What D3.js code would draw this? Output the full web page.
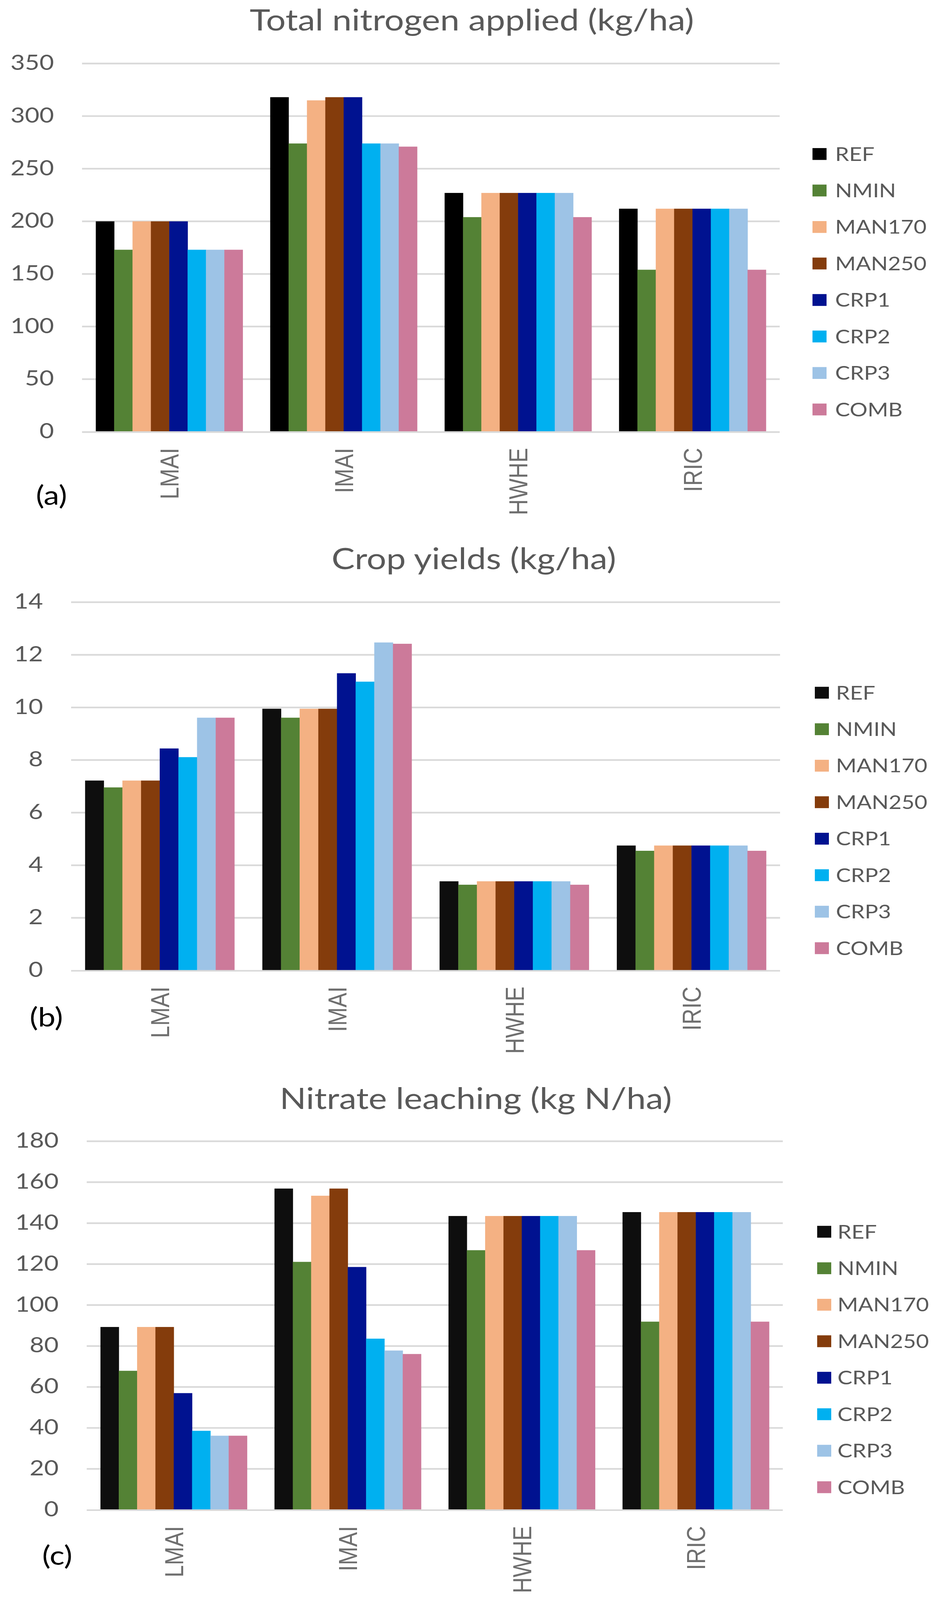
<!DOCTYPE html>
<html>
<head>
<meta charset="utf-8">
<script src="https://cdn.jsdelivr.net/npm/d3@7/dist/d3.min.js"></script>
<style>
  html, body { margin: 0; padding: 0; background: #ffffff; overflow: hidden; }
  svg { display: block; }
</style>
</head>
<body>
<script>
// ---------------- DATA ----------------
const categories = ["LMAI", "IMAI", "HWHE", "IRIC"];
const seriesNames = ["REF", "NMIN", "MAN170", "MAN250", "CRP1", "CRP2", "CRP3", "COMB"];
const seriesColors = ["#000000", "#548235", "#F4B183", "#843C0C", "#001290", "#00B0F0", "#9DC3E6", "#CC7A9A"];

// values per series, in category order LMAI, IMAI, HWHE, IRIC
const nitrogenApplied = [
  [200, 318, 227, 212],   // REF
  [173, 274, 204, 154],   // NMIN
  [200, 315, 227, 212],   // MAN170
  [200, 318, 227, 212],   // MAN250
  [200, 318, 227, 212],   // CRP1
  [173, 274, 227, 212],   // CRP2
  [173, 274, 227, 212],   // CRP3
  [173, 271, 204, 154]    // COMB
];
const cropYields = [
  [7.22, 9.95, 3.39, 4.75],
  [6.96, 9.61, 3.26, 4.55],
  [7.22, 9.95, 3.39, 4.75],
  [7.22, 9.95, 3.39, 4.75],
  [8.44, 11.30, 3.39, 4.75],
  [8.11, 10.98, 3.39, 4.75],
  [9.61, 12.47, 3.39, 4.75],
  [9.61, 12.42, 3.26, 4.55]
];
const nitrateLeaching = [
  [89.3, 156.9, 143.5, 145.4],
  [67.9, 121.1, 126.8, 91.9],
  [89.3, 153.4, 143.5, 145.4],
  [89.3, 156.9, 143.5, 145.4],
  [57.0, 118.6, 143.5, 145.4],
  [38.6, 83.6, 143.5, 145.4],
  [36.2, 77.8, 143.5, 145.4],
  [36.2, 76.1, 126.8, 91.9]
];
const nitrogenTicks = [0, 50, 100, 150, 200, 250, 300, 350];
const yieldTicks = [0, 2, 4, 6, 8, 10, 12, 14];
const leachingTicks = [0, 20, 40, 60, 80, 100, 120, 140, 160, 180];

const titles = ["Total nitrogen applied (kg/ha)", "Crop yields (kg/ha)", "Nitrate leaching (kg N/ha)"];
const panelLabels = ["(a)", "(b)", "(c)"];

// ---------------- LAYOUT (reference pixel frame) ----------------
const W = 2409, H = 4862;
const panels = [
  { values: nitrogenApplied, ticks: nitrogenTicks, x0: 210, x1: 1996, top: 193, bottom: 1312,
    titleX: 1208, titleY: 93, legSq: 2080, legText: 2138, labX: 92, labY: 1534, refColor: "#000000" },
  { values: cropYields, ticks: yieldTicks, x0: 182, x1: 1997, top: 1830, bottom: 2949,
    titleX: 1213, titleY: 1730, legSq: 2086, legText: 2140, labX: 76, labY: 3120, refColor: "#0e0e0e" },
  { values: nitrateLeaching, ticks: leachingTicks, x0: 222, x1: 2004, top: 3468, bottom: 4588,
    titleX: 1218, titleY: 3370, legSq: 2092, legText: 2144, labX: 108, labY: 4755, refColor: "#0e0e0e" }
];

// The drawing is laid out in the reference's 2409x4862 frame and fitted to the window.
const svg = d3.select("body").append("svg")
  .attr("viewBox", `0 0 ${W} ${H}`)
  .attr("preserveAspectRatio", "none")
  .style("width", "100vw").style("height", "100vh");
svg.append("rect").attr("width", W).attr("height", H).attr("fill", "#ffffff");

const gridColor = "#d9d9d9";
const textGray = "#595959";

panels.forEach((p, pi) => {
  const g = svg.append("g");
  const ticks = p.ticks;
  const y = d3.scaleLinear().domain([ticks[0], ticks[ticks.length - 1]]).range([p.bottom, p.top]);
  const pin = 1.5 / 9.5;
  const x = d3.scaleBand().domain(categories).range([p.x0, p.x1])
    .paddingInner(pin).paddingOuter(pin / 2);
  const xs = d3.scaleBand().domain(seriesNames).range([0, x.bandwidth()]).padding(0);
  const colorOf = si => (si === 0 ? p.refColor : seriesColors[si]);

  // title
  g.append("text")
    .attr("x", p.titleX).attr("y", p.titleY)
    .attr("text-anchor", "middle")
    .attr("font-family", "Lato, 'Open Sans', sans-serif")
    .attr("font-size", 89)
    .attr("fill", textGray)
    .text(titles[pi]);

  // gridlines
  g.append("g").selectAll("line").data(ticks.filter(t => t !== 0)).join("line")
    .attr("x1", p.x0).attr("x2", p.x1)
    .attr("y1", d => y(d)).attr("y2", d => y(d))
    .attr("stroke", gridColor).attr("stroke-width", 5);

  // value axis labels
  const yAxis = d3.axisLeft(y).tickValues(ticks).tickSize(0).tickPadding(72).tickFormat(d3.format("d"));
  const ya = g.append("g").attr("transform", `translate(${p.x0},0)`).call(yAxis);
  ya.select(".domain").remove();
  ya.selectAll("text")
    .attr("font-family", "Lato, 'Open Sans', sans-serif")
    .attr("font-size", 64)
    .attr("fill", textGray)
    .attr("dy", "0.3em");

  // bars
  seriesNames.forEach((s, si) => {
    g.append("g").attr("fill", colorOf(si)).selectAll("rect")
      .data(categories.map((c, ci) => ({ c, v: p.values[si][ci] })))
      .join("rect")
      .attr("x", d => x(d.c) + xs(s))
      .attr("width", xs.bandwidth() + 0.6)
      .attr("y", d => y(d.v))
      .attr("height", d => y(0) - y(d.v));
  });

  // category axis line
  g.append("line")
    .attr("x1", p.x0).attr("x2", p.x1)
    .attr("y1", y(0) + 1).attr("y2", y(0) + 1)
    .attr("stroke", gridColor).attr("stroke-width", 5);

  // category labels (rotated)
  const xAxis = d3.axisBottom(x).tickSize(0).tickPadding(0);
  const xa = g.append("g").attr("transform", `translate(0,${p.bottom})`).call(xAxis);
  xa.select(".domain").remove();
  xa.selectAll("text")
    .attr("font-family", "'Liberation Sans', Arial, sans-serif")
    .attr("font-size", 67)
    .attr("fill", "#6f6f6f")
    .attr("text-anchor", "end")
    .attr("transform", "translate(0,49) rotate(-90)")
    .attr("x", 0).attr("y", 0)
    .attr("dy", "0.36em");

  // legend
  const leg = g.append("g");
  seriesNames.forEach((s, si) => {
    const cy = p.top + 275 + si * 110.9;
    leg.append("rect")
      .attr("x", p.legSq).attr("y", cy - 18)
      .attr("width", 36).attr("height", 36)
      .attr("fill", colorOf(si));
    leg.append("text")
      .attr("x", p.legText).attr("y", cy)
      .attr("dy", "0.36em")
      .attr("font-family", "Lato, 'Open Sans', sans-serif")
      .attr("font-size", 57)
      .attr("fill", textGray)
      .text(s);
  });

  // panel label
  g.append("text")
    .attr("x", p.labX).attr("y", p.labY)
    .attr("font-family", "Lato, 'Open Sans', sans-serif")
    .attr("font-size", 80)
    .attr("fill", "#000000")
    .text(panelLabels[pi]);
});
</script>
</body>
</html>
